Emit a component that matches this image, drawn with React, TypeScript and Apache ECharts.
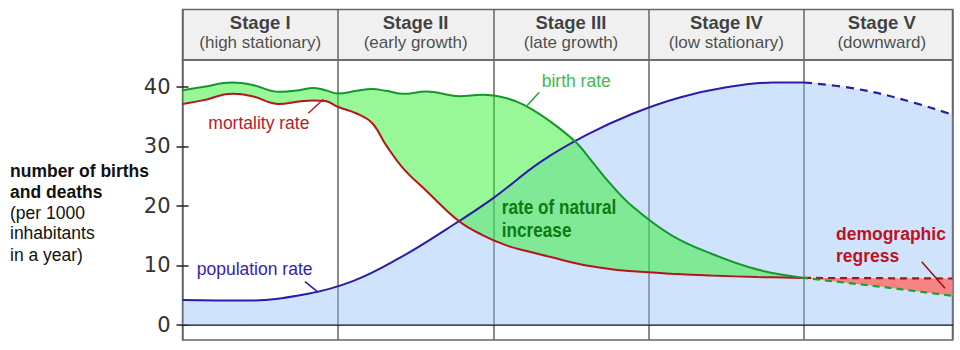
import React, { useEffect, useRef } from 'react';
import * as echarts from 'echarts';

// ---- Data ----
const stageNames = ['Stage I', 'Stage II', 'Stage III', 'Stage IV', 'Stage V'];
const stageSubs = ['(high stationary)', '(early growth)', '(late growth)', '(low stationary)', '(downward)'];
const stageCenters = [0.5, 1.5, 2.5, 3.5, 4.5];

const rateX = [0, 0.13, 0.32, 0.45, 0.62, 0.75, 0.84, 0.92, 1.0, 1.12, 1.22, 1.31, 1.42, 1.57, 1.78, 1.93, 2.08, 2.2, 2.37, 2.53, 2.64, 2.75, 2.9, 3.15, 3.4, 3.7, 4.0];
const birthRate = [39.4, 39.95, 40.7, 40.3, 39.15, 39.4, 39.8, 39.4, 38.85, 39.3, 39.6, 39.3, 38.8, 39.2, 38.4, 38.65, 38.1, 36.9, 34.1, 30.7, 27.3, 23.8, 19.8, 15.0, 12.0, 9.3, 7.9];
const mortalityRate = [37.1, 37.7, 38.8, 38.4, 37.1, 37.5, 37.7, 37.6, 36.6, 35.5, 33.9, 30.2, 26.3, 22.5, 17.4, 15.1, 13.4, 12.5, 11.4, 10.35, 9.8, 9.4, 9.0, 8.6, 8.3, 8.05, 7.9];

const regressX = [4.0, 4.5, 4.955];
const birthRateV = [7.9, 6.4, 4.9];
const mortalityRateV = [7.9, 7.85, 7.8];

const popX = [0, 0.4, 0.8, 1.1, 1.4, 1.7, 2.0, 2.3, 2.6, 2.9, 3.2, 3.5, 3.8, 4.0];
const population = [4.2, 4.1, 5.2, 7.4, 11.3, 16.1, 21.3, 27.3, 31.9, 35.5, 38.2, 39.9, 40.7, 40.7];
const popXV = [4.0, 4.3, 4.6, 4.955];
const populationV = [40.7, 39.8, 38.1, 35.3];

const yTicks = [0, 10, 20, 30, 40];

// ---- Layout / style ----
const FONT = "'Liberation Sans', Arial, sans-serif";
const X_MAX = 4.955;
const Y_MIN = -2.52;
const Y_MAX = 44.48;
const SMOOTH = 0.4;

const pairs = (xs: number[], ys: number[]) => xs.map((x, i) => [ys[i], x]);
const enc = { x: 1, y: 0 };

function buildOption(): any {
  const common = {
    type: 'line',
    xAxisIndex: 1,
    yAxisIndex: 1,
    encode: enc,
    symbol: 'none',
    showSymbol: false,
    silent: true,
  };
  const popAllX = popX.concat(popXV.slice(1));
  const popAll = population.concat(populationV.slice(1));
  const increase = birthRate.map((b, i) => +(b - mortalityRate[i]).toFixed(3));
  const regress = mortalityRateV.map((m, i) => +(m - birthRateV[i]).toFixed(3));

  const txt = (text: string, x: number, y: number, color: string, size: number, bold = false, extra: any = {}) => ({
    type: 'text',
    x,
    y,
    z: 100,
    ...extra,
    style: {
      text,
      fill: color,
      fontSize: size,
      fontWeight: bold ? 'bold' : 'normal',
      fontFamily: FONT,
      align: 'left',
      verticalAlign: 'middle',
    },
  });
  const leader = (x1: number, y1: number, x2: number, y2: number, color: string) => ({
    type: 'line',
    z: 100,
    shape: { x1, y1, x2, y2 },
    style: { stroke: color, lineWidth: 1.5 },
  });
  const headerSeries = (texts: string[], dy: number, size: number, bold: boolean, color: string) => ({
    type: 'scatter', xAxisIndex: 0, yAxisIndex: 0, silent: true,
    symbolSize: 1, itemStyle: { color: 'transparent' },
    data: stageCenters.map((c) => [c, 0.5]),
    label: {
      show: true, position: 'inside', offset: [0, dy],
      formatter: (p: any) => texts[p.dataIndex],
      fontSize: size, fontWeight: bold ? 'bold' : 'normal', color, fontFamily: FONT, lineHeight: 17,
    },
  });

  return {
    animation: false,
    backgroundColor: '#ffffff',
    grid: [
      { left: 182.5, right: 7.5, top: 9.5, height: 50.5, show: true, backgroundColor: '#f0f0f0', borderColor: '#666', borderWidth: 1.5 },
      { left: 182.5, right: 7.5, top: 60, bottom: 10, show: true, borderColor: '#666', borderWidth: 1.5 },
    ],
    xAxis: [
      {
        gridIndex: 0, type: 'value', min: 0, max: X_MAX, interval: 1,
        axisLine: { show: false }, axisTick: { show: false }, axisLabel: { show: false },
        splitLine: { show: true, lineStyle: { color: '#666', width: 1.5 } },
      },
      {
        gridIndex: 1, type: 'value', min: 0, max: X_MAX, interval: 1,
        axisLine: { show: true, onZero: true, lineStyle: { color: '#111', width: 1.5 } },
        axisTick: { show: false }, axisLabel: { show: false },
        splitLine: { show: true, lineStyle: { color: '#666', width: 1.5 } },
      },
    ],
    yAxis: [
      { gridIndex: 0, type: 'value', min: 0, max: 1, show: false },
      {
        gridIndex: 1, type: 'value', min: Y_MIN, max: Y_MAX, position: 'left',
        axisLine: { show: false },
        axisTick: { show: true, customValues: yTicks, inside: false, length: 6, lineStyle: { color: '#222', width: 1.5 } },
        axisLabel: { show: true, customValues: yTicks, margin: 12, fontSize: 21, fontFamily: "'DejaVu Sans', sans-serif", color: '#333' },
        splitLine: { show: false },
      },
      {
        gridIndex: 1, type: 'value', min: Y_MIN, max: Y_MAX, position: 'left',
        axisLine: { show: false },
        axisTick: { show: true, customValues: yTicks, inside: true, length: 6, lineStyle: { color: '#222', width: 1.5 } },
        axisLabel: { show: false },
        splitLine: { show: false },
      },
    ],
    series: [
      // header labels
      headerSeries(stageNames, -12.5, 18.5, true, '#111'),
      headerSeries(stageSubs, 7.5, 17, false, '#222'),
      // fills
      { ...common, name: 'popFill', data: pairs(popAllX, popAll), smooth: SMOOTH, lineStyle: { width: 0 }, areaStyle: { color: 'rgba(139,188,247,0.41)', opacity: 1 }, z: 1 },
      { ...common, name: 'mortBase', stack: 'nat', data: pairs(rateX, mortalityRate), smooth: SMOOTH, lineStyle: { width: 0 }, z: 2 },
      { ...common, name: 'increase', stack: 'nat', data: pairs(rateX, increase), smooth: SMOOTH, lineStyle: { width: 0 }, areaStyle: { color: 'rgba(40,240,40,0.48)', opacity: 1 }, z: 2 },
      { ...common, name: 'regBase', stack: 'reg', data: pairs(regressX, birthRateV), smooth: false, lineStyle: { width: 0 }, z: 2 },
      { ...common, name: 'regress', stack: 'reg', data: pairs(regressX, regress), smooth: false, lineStyle: { width: 0 }, areaStyle: { color: '#f68484', opacity: 1 }, z: 2 },
      // lines
      { ...common, name: 'popLine', data: pairs(popX, population), smooth: SMOOTH, lineStyle: { color: '#2b1ca8', width: 2 }, z: 4 },
      { ...common, name: 'popLineV', data: pairs(popXV, populationV), smooth: SMOOTH, lineStyle: { color: '#2b1ca8', width: 2.2, type: [8, 6] }, z: 4 },
      { ...common, name: 'mortLine', data: pairs(rateX, mortalityRate), smooth: SMOOTH, lineStyle: { color: '#b5151c', width: 2 }, z: 5 },
      { ...common, name: 'birthLine', data: pairs(rateX, birthRate), smooth: SMOOTH, lineStyle: { color: '#15962b', width: 2 }, z: 5 },
      { ...common, name: 'mortLineV', data: pairs(regressX, mortalityRateV), smooth: false, lineStyle: { color: '#a5141a', width: 2.2, type: [7, 5] }, z: 5 },
      { ...common, name: 'birthLineV', data: pairs(regressX, birthRateV), smooth: false, lineStyle: { color: '#1aa32e', width: 2.2, type: [7, 5], dashOffset: 3 }, z: 5 },
    ],
    graphic: [
      txt('number of births', 10, 170.5, '#111', 17.5, true),
      txt('and deaths', 10, 191.7, '#111', 17.5, true),
      txt('(per 1000', 10, 212.7, '#111', 17.5),
      txt('inhabitants', 10, 233.3, '#111', 17.5),
      txt('in a year)', 10, 255, '#111', 17.5),
      txt('mortality rate', 208.3, 123.3, '#b5202a', 17.5),
      leader(308.3, 113.3, 323.3, 99.3, '#b5202a'),
      txt('birth rate', 541.7, 80.7, '#3fb950', 17.5),
      leader(526, 106.7, 539.3, 92.3, '#2e9e3e'),
      txt('population rate', 196.7, 269.3, '#3522b0', 17.5),
      leader(305, 281.7, 318.3, 292.3, '#2b1ca8'),
      txt('rate of natural', 501.7, 206.7, '#0d7a12', 20, true, { scaleX: 0.86 }),
      txt('increase', 501.7, 230, '#0d7a12', 20, true, { scaleX: 0.86 }),
      txt('demographic', 836, 234.3, '#c0101c', 17.5, true),
      txt('regress', 836, 256, '#c0101c', 17.5, true),
      leader(921.7, 261.7, 945, 288.3, '#9a1016'),
    ],
  };
}

export default function App() {
  const ref = useRef<HTMLDivElement>(null);
  useEffect(() => {
    document.body.style.margin = '0';
    if (!ref.current) return;
    const chart = echarts.init(ref.current, undefined, { renderer: 'svg' });
    chart.setOption(buildOption());
    return () => chart.dispose();
  }, []);
  return <div ref={ref} style={{ width: 960, height: 350 }} />;
}
